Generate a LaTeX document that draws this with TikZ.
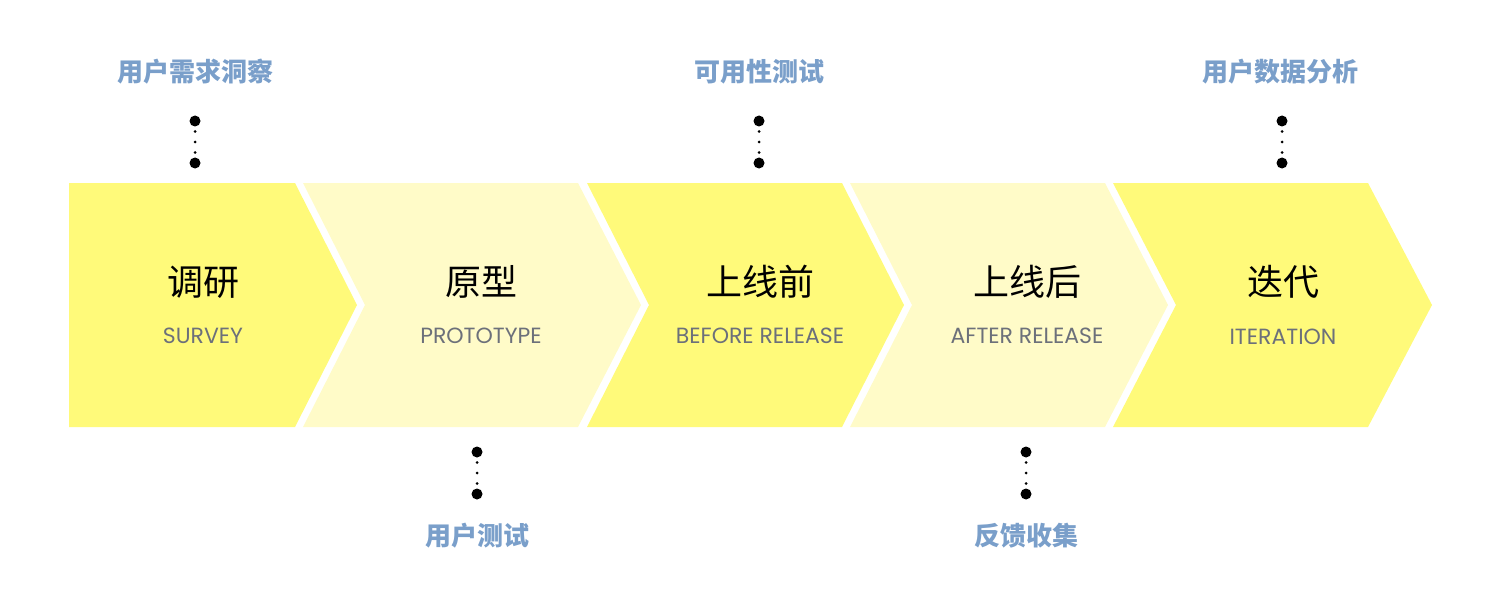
\documentclass[tikz,border=0pt]{standalone}
\usepackage{fontspec}
\setmainfont{Poppins}
\newfontfamily\cjk{Noto Sans CJK SC}
\usepackage{xcolor}
\usepackage{tikz}

\definecolor{stagedark}{HTML}{FFFA7A}
\definecolor{stagelight}{HTML}{FFFBC8}
\definecolor{notetext}{HTML}{7A9FCA}
\definecolor{subtext}{HTML}{6C707A}

\tikzset{
  stagetitle/.style={font=\cjk\fontsize{36}{36}\selectfont, text=black, inner sep=0},
  stagesub/.style={font=\fontsize{22}{22}\selectfont, text=subtext, inner sep=0},
  notelabel/.style={font=\cjk\bfseries\fontsize{26}{26}\selectfont, text=notetext, inner sep=0},
}

\begin{document}
\begin{tikzpicture}[x=1pt, y=-1pt]
  \useasboundingbox (0,0) rectangle (1491,599);
  % chevrons
  \fill[stagedark] (69,183) -- (295,183) -- (357,305) -- (295,427) -- (69,427) -- cycle;
  \fill[stagelight] (303,183) -- (578,183) -- (641,305) -- (578,427) -- (303,427) -- (365,305) -- cycle;
  \fill[stagedark] (587,183) -- (842,183) -- (904,305) -- (842,427) -- (587,427) -- (649,305) -- cycle;
  \fill[stagelight] (850,183) -- (1105,183) -- (1168,305) -- (1105,427) -- (850,427) -- (912,305) -- cycle;
  \fill[stagedark] (1113,183) -- (1368,183) -- (1432,305) -- (1368,427) -- (1113,427) -- (1176,305) -- cycle;

  % stage texts
  \node[stagetitle] (survey) at (203,282) {调研};
  \node[stagesub] (surveysub) at (203,336) {SURVEY};
  \node[stagetitle] (proto) at (481,282) {原型};
  \node[stagesub] (protosub) at (481,336) {PROTOTYPE};
  \node[stagetitle] (before) at (760,282) {上线前};
  \node[stagesub] (beforesub) at (760,336) {BEFORE RELEASE};
  \node[stagetitle] (after) at (1027,282) {上线后};
  \node[stagesub] (aftersub) at (1027,336) {AFTER RELEASE};
  \node[stagetitle] (iter) at (1283,282) {迭代};
  \node[stagesub] (itersub) at (1283,337) {ITERATION};

  % notes above
  \node[notelabel] (insight) at (195,72) {用户需求洞察};
  \fill[black] (195,121) circle (5.5);
  \fill[black] (195,131.5) circle (1.5);
  \fill[black] (195,142) circle (1.5);
  \fill[black] (195,152.5) circle (1.5);
  \fill[black] (195,163) circle (5.5);
  \node[notelabel] (usability) at (759,72) {可用性测试};
  \fill[black] (759,121) circle (5.5);
  \fill[black] (759,131.5) circle (1.5);
  \fill[black] (759,142) circle (1.5);
  \fill[black] (759,152.5) circle (1.5);
  \fill[black] (759,163) circle (5.5);
  \node[notelabel] (analysis) at (1280,72) {用户数据分析};
  \fill[black] (1282,121) circle (5.5);
  \fill[black] (1282,131.5) circle (1.5);
  \fill[black] (1282,142) circle (1.5);
  \fill[black] (1282,152.5) circle (1.5);
  \fill[black] (1282,163) circle (5.5);

  % notes below
  \node[notelabel] (usertest) at (477,536) {用户测试};
  \fill[black] (477,452) circle (5.5);
  \fill[black] (477,462.5) circle (1.5);
  \fill[black] (477,473) circle (1.5);
  \fill[black] (477,483.5) circle (1.5);
  \fill[black] (477,494) circle (5.5);
  \node[notelabel] (feedback) at (1026,536) {反馈收集};
  \fill[black] (1026,452) circle (5.5);
  \fill[black] (1026,462.5) circle (1.5);
  \fill[black] (1026,473) circle (1.5);
  \fill[black] (1026,483.5) circle (1.5);
  \fill[black] (1026,494) circle (5.5);
\end{tikzpicture}
\end{document}
